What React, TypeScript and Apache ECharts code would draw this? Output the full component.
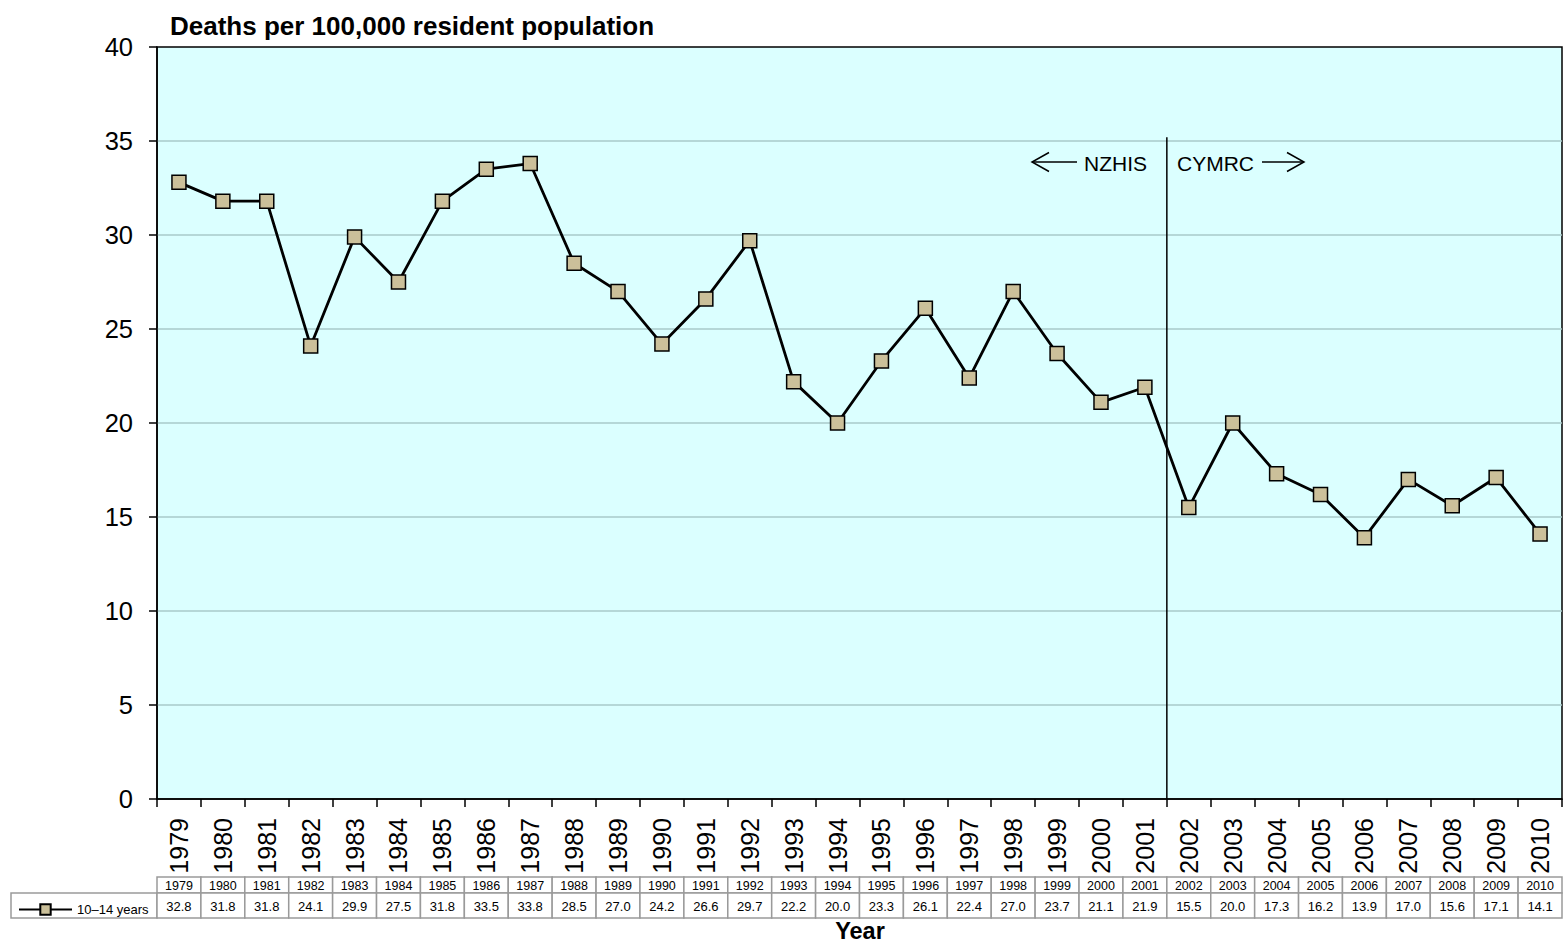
import React, { useEffect, useRef } from "react";
import * as echarts from "echarts";

const YEARS = ["1979","1980","1981","1982","1983","1984","1985","1986","1987","1988","1989","1990","1991","1992","1993","1994","1995","1996","1997","1998","1999","2000","2001","2002","2003","2004","2005","2006","2007","2008","2009","2010"];
const RATES = [32.8,31.8,31.8,24.1,29.9,27.5,31.8,33.5,33.8,28.5,27.0,24.2,26.6,29.7,22.2,20.0,23.3,26.1,22.4,27.0,23.7,21.1,21.9,15.5,20.0,17.3,16.2,13.9,17.0,15.6,17.1,14.1];
const SERIES_NAME = "10–14 years";
const Y_TICKS = { min: 0, max: 40, interval: 5 };
// source change boundary: between 2001 (index 22) and 2002 (index 23)
const SOURCE_SPLIT = 23;
const SPLIT_LINE_TOP = 35.2;
const SOURCE_LEFT = "NZHIS";
const SOURCE_RIGHT = "CYMRC";
const TITLE = "Deaths per 100,000 resident population";
const X_TITLE = "Year";

const FONT = "'Liberation Sans', Arial, sans-serif";

export default function App() {
  const ref = useRef<HTMLDivElement>(null);
  useEffect(() => {
    document.body.style.margin = "0";
    const chart = echarts.init(ref.current!, null, { renderer: "svg" });
    const GRID = { left: 157, top: 47, width: 1405, height: 752 };
    const tableTop = 877;
    const yearRowH = 16;
    const valRowH = 25;
    const option: any = {
      animation: false,
      textStyle: { fontFamily: FONT },
      title: {
        text: TITLE,
        left: 165,
        top: 8,
        textStyle: { fontSize: 26, fontWeight: "bold", color: "#000", fontFamily: FONT },
      },
      legend: {
        data: [SERIES_NAME],
        left: 13,
        top: 898,
        itemWidth: 53,
        itemHeight: 13,
        z: 10,
        textStyle: { fontSize: 13, color: "#000", fontFamily: FONT },
      },
      grid: {
        ...GRID,
        show: true,
        backgroundColor: "#DBFFFF",
        borderColor: "#000",
        borderWidth: 1.5,
        containLabel: false,
      },
      xAxis: [
        {
          type: "category",
          data: YEARS,
          boundaryGap: true,
          axisLine: { lineStyle: { color: "#000", width: 1.5 } },
          axisTick: { show: true, length: 8, interval: 0, lineStyle: { color: "#000", width: 1.5 } },
          axisLabel: { interval: 0, rotate: 90, fontSize: 25, margin: 19, color: "#000", fontFamily: FONT },
          splitLine: { show: false },
        },
        {
          type: "value",
          min: 0,
          max: YEARS.length,
          show: false,
        },
      ],
      yAxis: {
        type: "value",
        min: Y_TICKS.min,
        max: Y_TICKS.max,
        interval: Y_TICKS.interval,
        axisLine: { show: true, lineStyle: { color: "#000", width: 1.5 } },
        axisTick: { show: true, length: 8, lineStyle: { color: "#000", width: 1.5 } },
        axisLabel: { fontSize: 25.5, margin: 24, color: "#000", fontFamily: FONT },
        splitLine: { show: true, showMinLine: false, showMaxLine: false, lineStyle: { color: "#A8CACA", width: 1.5 } },
      },
      series: [
        {
          name: SERIES_NAME,
          type: "line",
          data: RATES,
          symbol: "rect",
          symbolSize: 14,
          lineStyle: { color: "#000", width: 2.8 },
          itemStyle: { color: "#CBC09A", borderColor: "#000", borderWidth: 1.5 },
          z: 5,
        },
        {
          name: "split",
          type: "line",
          xAxisIndex: 1,
          data: [[SOURCE_SPLIT, 0], [SOURCE_SPLIT, SPLIT_LINE_TOP]],
          symbol: "none",
          lineStyle: { color: "#000", width: 1.5 },
          z: 3,
          silent: true,
        },
        {
          name: "table",
          type: "custom",
          clip: false,
          silent: true,
          data: RATES.map((v, i) => [i, v]),
          renderItem: (params: any, api: any) => {
            const i = api.value(0);
            const v = api.value(1);
            const cx = api.coord([i, 0])[0];
            const w = api.size([1, 0])[0];
            const stroke = { stroke: "#9A9A9A", lineWidth: 1.5, fill: "#fff" };
            return {
              type: "group",
              children: [
                { type: "rect", shape: { x: cx - w / 2, y: tableTop, width: w, height: yearRowH }, style: stroke },
                {
                  type: "text",
                  x: cx,
                  y: tableTop + yearRowH / 2 + 0.5,
                  style: { text: YEARS[params.dataIndex], fontSize: 12.5, fontFamily: FONT, fill: "#000", align: "center", verticalAlign: "middle" },
                },
                { type: "rect", shape: { x: cx - w / 2, y: tableTop + yearRowH, width: w, height: valRowH }, style: stroke },
                {
                  type: "text",
                  x: cx,
                  y: tableTop + yearRowH + valRowH / 2 + 0.5,
                  style: { text: v.toFixed(1), fontSize: 13, fontFamily: FONT, fill: "#000", align: "center", verticalAlign: "middle" },
                },
              ],
            };
          },
        },
      ],
      graphic: [
        {
          type: "rect",
          shape: { x: 11, y: tableTop + yearRowH, width: 146, height: valRowH },
          style: { fill: "#fff", stroke: "#9A9A9A", lineWidth: 1.5 },
          z: 1,
        },
        {
          type: "text",
          x: 1084,
          y: 163,
          style: { text: SOURCE_LEFT, fontSize: 21, fontFamily: FONT, fill: "#000", align: "left", verticalAlign: "middle" },
        },
        {
          type: "text",
          x: 1177,
          y: 163,
          style: { text: SOURCE_RIGHT, fontSize: 21, fontFamily: FONT, fill: "#000", align: "left", verticalAlign: "middle" },
        },
        { type: "line", shape: { x1: 1032, y1: 162, x2: 1077, y2: 162 }, style: { stroke: "#000", lineWidth: 1.5 } },
        { type: "polyline", shape: { points: [[1049, 152.5], [1032, 162], [1049, 171.5]] }, style: { stroke: "#000", lineWidth: 1.5, fill: null } },
        { type: "line", shape: { x1: 1262, y1: 162, x2: 1304, y2: 162 }, style: { stroke: "#000", lineWidth: 1.5 } },
        { type: "polyline", shape: { points: [[1287, 152.5], [1304, 162], [1287, 171.5]] }, style: { stroke: "#000", lineWidth: 1.5, fill: null } },
        {
          type: "text",
          x: 860,
          y: 931,
          style: { text: X_TITLE, fontSize: 23.5, fontWeight: "bold", fontFamily: FONT, fill: "#000", align: "center", verticalAlign: "middle" },
        },
      ],
    };
    chart.setOption(option);
    return () => chart.dispose();
  }, []);
  return <div ref={ref} style={{ width: 1563, height: 943 }} />;
}
